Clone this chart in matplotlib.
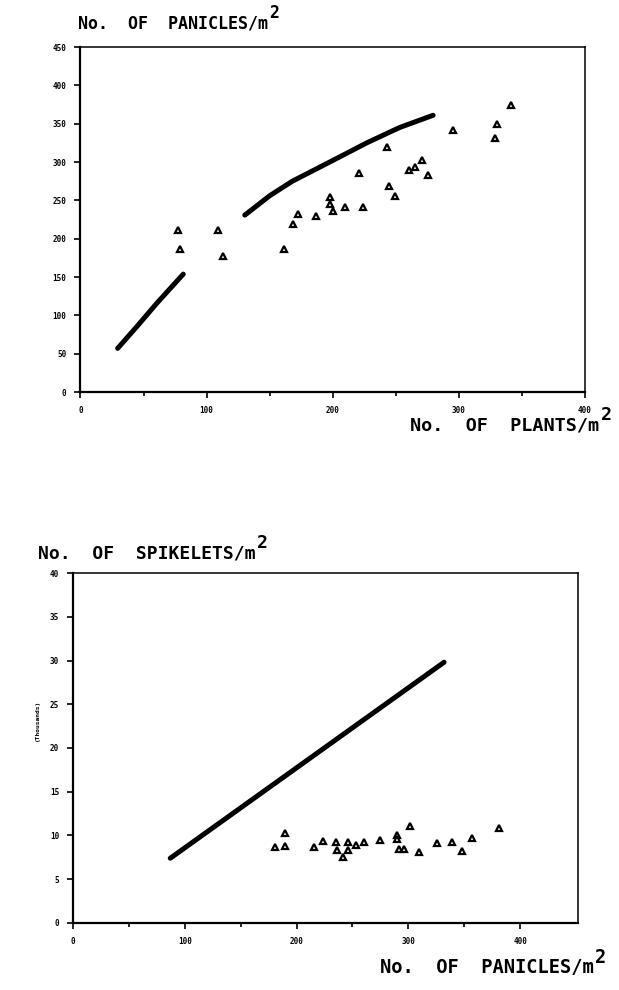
import matplotlib
matplotlib.use("Agg")
import matplotlib.pyplot as plt

# ---------------- data: top panel (plants vs panicles) ----------------
plants = [77, 79, 109, 113, 161.5, 168.6, 172.6, 186.6, 198, 198, 200.6, 209.6,
          224, 220.7, 243, 245, 249, 260.3, 265, 270.8, 275.6, 295.4, 330.6,
          328.5, 341.7]
panicles = [211, 186, 211, 177, 186, 219, 232, 230, 254, 245, 236, 241,
            241, 286, 319, 269, 256, 290, 294, 302, 283, 342, 349,
            331, 374]
curve1_x = [29.5, 44.5, 60.4, 81.5]
curve1_y = [57, 85, 115.6, 153.8]
curve2_x = [130.3, 150, 168, 200, 227, 253, 279.6]
curve2_y = [230.8, 256, 275, 302, 325, 345, 361]

# ---------------- data: bottom panel (panicles vs spikelets) ----------------
panicles_b = [180.8, 189.8, 189.8, 215.8, 223.5, 235.4, 236.6, 242, 246, 246,
              253, 260.8, 274.8, 289.8, 289.8, 292, 296.6, 301.4, 309.5, 326,
              339, 348, 357.2, 381]
spikelets = [8.7, 10.3, 8.8, 8.7, 9.4, 9.2, 8.3, 7.5, 9.2, 8.3,
             8.9, 9.2, 9.5, 10.1, 9.6, 8.5, 8.4, 11.1, 8.1, 9.1,
             9.3, 8.2, 9.7, 10.8]
line_x = [87, 332]
line_y = [7.4, 29.8]

top_xticks = [0, 100, 200, 300, 400]
top_yticks = [0, 50, 100, 150, 200, 250, 300, 350, 400, 450]
bot_xticks = [0, 100, 200, 300, 400]
bot_yticks = [0, 5, 10, 15, 20, 25, 30, 35, 40]

MONO = "DejaVu Sans Mono"

fig = plt.figure(figsize=(6.19, 9.9), dpi=100)


def style_axes(ax, xticks, yticks, xminor):
    ax.set_xticks(xticks)
    ax.set_yticks(yticks)
    ax.set_xticks(xminor, minor=True)
    ax.tick_params(axis="both", which="major", direction="out", length=4,
                   width=1.2, labelsize=5.5, pad=6)
    ax.tick_params(axis="x", which="minor", direction="out", length=3, width=1.2)
    for lab in ax.get_xticklabels() + ax.get_yticklabels():
        lab.set_fontfamily(MONO)
        lab.set_fontweight("bold")
    for s in ["left", "bottom"]:
        ax.spines[s].set_linewidth(1.6)
    for s in ["top", "right"]:
        ax.spines[s].set_linewidth(1.1)


def title_with_sq(x, y, txt, fs):
    t = fig.text(x, y, txt, fontfamily=MONO, fontweight="bold", fontsize=fs,
                 ha="left", va="baseline")
    fig.text(0, 0, "")
    plt.annotate("2", xy=(1.0, 0.55), xycoords=t, xytext=(1, 0),
                 textcoords="offset points", fontfamily=MONO,
                 fontweight="bold", fontsize=fs, ha="left", va="bottom",
                 annotation_clip=False)
    return t


# ---------------- top panel ----------------
ax1 = fig.add_axes([0.130, 0.604, 0.815, 0.3485])
ax1.plot(curve1_x, curve1_y, color="black", lw=3.6, solid_capstyle="round")
ax1.plot(curve2_x, curve2_y, color="black", lw=3.6, solid_capstyle="round")
ax1.plot(plants, panicles, linestyle="none", marker="^", ms=4.5,
         mfc="white", mec="black", mew=1.6)
ax1.set_xlim(0, 400)
ax1.set_ylim(0, 450)
style_axes(ax1, top_xticks, top_yticks, [50, 150, 250, 350])

# ---------------- bottom panel ----------------
ax2 = fig.add_axes([0.118, 0.0677, 0.816, 0.3535])
ax2.plot(line_x, line_y, color="black", lw=3.6, solid_capstyle="round")
ax2.plot(panicles_b, spikelets, linestyle="none", marker="^", ms=4.5,
         mfc="white", mec="black", mew=1.6)
ax2.set_xlim(0, 452)
ax2.set_ylim(0, 40)
style_axes(ax2, bot_xticks, bot_yticks, [50, 150, 250, 350])
ax2.text(-0.07, 0.58, "(Thousands)", transform=ax2.transAxes, rotation=90,
         fontfamily=MONO, fontweight="bold", fontsize=4.5, ha="center",
         va="center")

# ---------------- titles / axis labels ----------------
title_with_sq(78 / 619, 1 - 28 / 990, "No.  OF  PANICLES/m", 12)
title_with_sq(410 / 619, 1 - 430 / 990, "No.  OF  PLANTS/m", 13.3)
title_with_sq(38 / 619, 1 - 558 / 990, "No.  OF  SPIKELETS/m", 13)
title_with_sq(380 / 619, 1 - 973 / 990, "No.  OF  PANICLES/m", 13.5)

fig.savefig("out.png", dpi=100)
